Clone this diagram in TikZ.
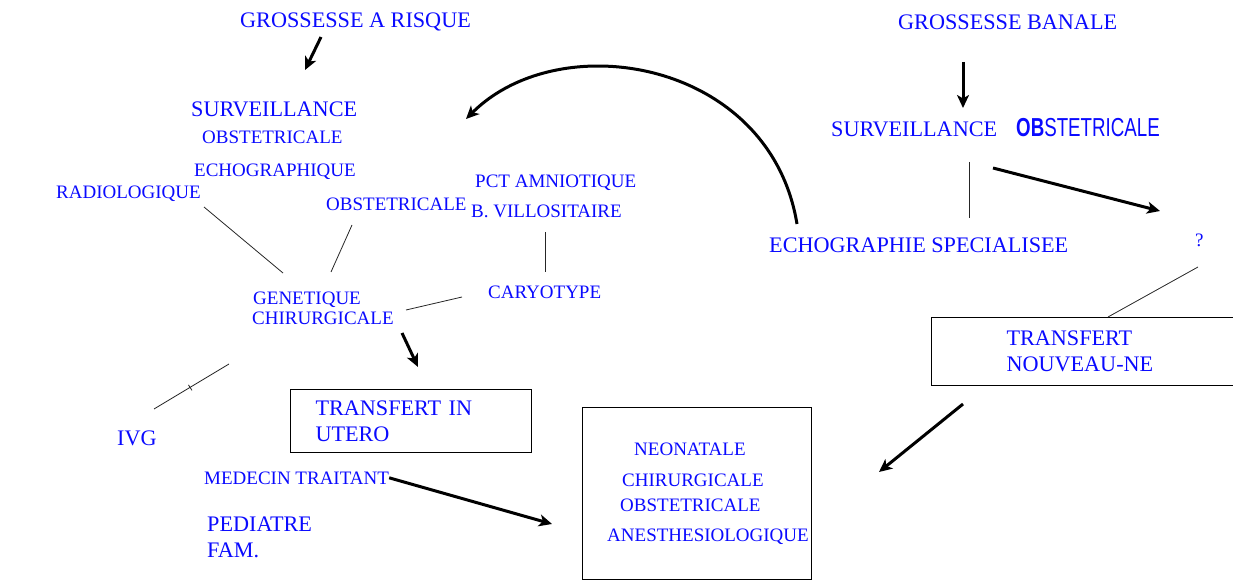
\documentclass[tikz,border=0pt]{standalone}
\usepackage{fontspec}
\setmainfont{Liberation Serif}
\newfontfamily\condsans[FakeStretch=0.72]{Liberation Sans}
\usetikzlibrary{arrows.meta,positioning,calc}
\definecolor{bleu}{RGB}{10,10,255}
\tikzset{
  grand/.style={text=bleu,font=\fontsize{22.2}{26}\selectfont,inner sep=0pt,anchor=base west},
  petit/.style={text=bleu,font=\fontsize{19}{23}\selectfont,inner sep=0pt,anchor=base west},
  boite/.style={draw,line width=1pt,text=bleu,font=\fontsize{22.2}{26}\selectfont,align=left,anchor=north west,inner ysep=0pt},
  fleche/.style={line width=3pt,-{Stealth[length=13pt,width=12pt,inset=3.5pt]}},
  trait/.style={line width=0.8pt,black!85}
}
\begin{document}
\begin{tikzpicture}[x=1pt,y=-1pt]
        \useasboundingbox (0,0) rectangle (1233,580);
        \node[grand] (gar) at (240,28) {GROSSESSE A RISQUE};
        \node[grand] (surv) at (191,117) {SURVEILLANCE};
        \node[petit] (obst) at (202,144) {OBSTETRICALE};
        \node[petit] (echo) at (194,176) {ECHOGRAPHIQUE};
        \node[petit] (radio) at (56,198) {RADIOLOGIQUE};
        \node[petit] (obstb) at (326,211) {OBSTETRICALE};
        \node[petit] (pct) at (475,188) {PCT AMNIOTIQUE};
        \node[petit] (villo) at (471,217) {B. VILLOSITAIRE};
        \node[petit] (gen) at (253,304) {GENETIQUE};
        \node[petit] (chir) at (252,324) {CHIRURGICALE};
        \node[petit] (caryo) at (488,298) {CARYOTYPE};
        \node[grand] (ivg) at (117,445) {IVG};
        \node[petit] (mt) at (204,484) {MEDECIN TRAITANT};
        \node[grand] (ped) at (207,531) {PEDIATRE};
        \node[grand] (fam) at (207,557) {FAM.};
        \node[boite,minimum height=63pt,inner xsep=25pt,text width=191pt] (tiu) at (290,389) {TRANSFERT IN\\UTERO};
        \node[draw,line width=1pt,minimum width=229pt,minimum height=172pt,anchor=north west,inner sep=0pt] (soins) at (582,407) {};
        \node[petit] (neo) at (634,455) {NEONATALE};
        \node[petit] (chirb) at (622,486) {CHIRURGICALE};
        \node[petit] (obstc) at (620,511) {OBSTETRICALE};
        \node[petit] (anes) at (607,541) {ANESTHESIOLOGIQUE};
        \node[grand] (gbn) at (898,30) {GROSSESSE BANALE};
        \node[grand] (survb) at (831,137) {SURVEILLANCE};
        \node[text=bleu,font=\condsans\fontsize{26}{28}\selectfont,inner sep=0pt,anchor=base west] (obstd) at (1016,137) {\textbf{OB}STETRICALE};
        \node[grand] (echosp) at (769,252) {ECHOGRAPHIE SPECIALISEE};
        \node[petit] (quest) at (1195,246) {?};
        \node[boite,minimum height=68pt,inner xsep=75pt,text width=170pt] (tnn) at (931,317) {TRANSFERT\\NOUVEAU-NE};

        \coordinate (g1) at (321,37);  \coordinate (g2) at (305,70);
        \coordinate (b1) at (963,62);  \coordinate (b2) at (963,108);
        \coordinate (c1) at (797,224); \coordinate (c2) at (466,119);
        \coordinate (q1) at (993,168); \coordinate (q2) at (1160,211);
        \coordinate (t1) at (963,404); \coordinate (t2) at (879,472);
        \coordinate (x1) at (402,333); \coordinate (x2) at (418,367);
        \coordinate (m2) at (552,524);
        \coordinate (v1) at (969,162); \coordinate (v2) at (969,218);
        \coordinate (n1) at (1198,267); \coordinate (n2) at (1108,317);
        \coordinate (r1) at (204,207); \coordinate (r2) at (283,273);
        \coordinate (o1) at (352,225); \coordinate (o2) at (331,272);
        \coordinate (k1) at (545,232); \coordinate (k2) at (545,272);
        \coordinate (y1) at (462,297); \coordinate (y2) at (406,310);
        \coordinate (i1) at (229,364); \coordinate (i2) at (154,409);

        \foreach \a/\b in {g1/g2,b1/b2,q1/q2,t1/t2,x1/x2,mt.east/m2}
          \draw[fleche] (\a) -- (\b);
        \draw[fleche] (c1) .. controls (770,60) and (560,25) .. (c2);
        \foreach \a/\b in {v1/v2,n1/n2,r1/r2,o1/o2,k1/k2,y1/y2,i1/i2}
          \draw[trait] (\a) -- (\b);
        \draw[trait] ($(i1)!.52!(i2)+(-1.5,-2.5)$) -- ++(3.5,5.5);
      \end{tikzpicture}
\end{document}
